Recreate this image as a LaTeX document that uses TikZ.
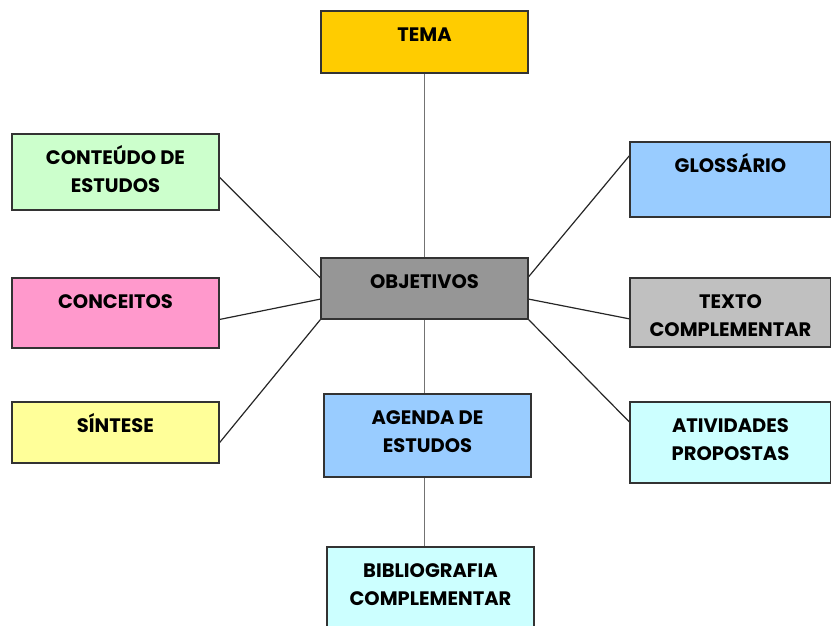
\documentclass[tikz,border=0pt]{standalone}
\usepackage{fontspec}
\setmainfont{Poppins}
\usetikzlibrary{calc,backgrounds}
\definecolor{cTema}{HTML}{FFCC00}
\definecolor{cGreen}{HTML}{CCFFCC}
\definecolor{cPink}{HTML}{FF99CC}
\definecolor{cYellow}{HTML}{FFFF99}
\definecolor{cObj}{HTML}{969696}
\definecolor{cBlue}{HTML}{99CCFF}
\definecolor{cSilver}{HTML}{C0C0C0}
\definecolor{cCyan}{HTML}{CCFFFF}
\definecolor{cBorder}{HTML}{333333}
\newcommand{\bt}[3]{\parbox[c][#2][t]{#1}{\centering\rule{0pt}{30pt}#3}}
\tikzset{
  box/.style={draw=cBorder, line width=1.4pt, inner sep=0pt,
    font=\bfseries\fontsize{19.5}{28.5}\selectfont},
  link/.style={draw=black!85, line width=1.2pt},
  vlink/.style={draw=black!55, line width=1.1pt}
}
\begin{document}
\begin{tikzpicture}[x=1pt,y=-1pt]
\useasboundingbox (0,0) rectangle (831,625);
\node[box, fill=cTema] (tema) at (424.5,42) {\bt{207pt}{62pt}{TEMA}};
\node[box, fill=cGreen] (conteudo) at (115.5,172) {\bt{207pt}{76pt}{CONTEÚDO DE\\ESTUDOS}};
\node[box, fill=cPink] (conceitos) at (115.5,313) {\bt{207pt}{70pt}{CONCEITOS}};
\node[box, fill=cYellow] (sintese) at (115.5,432.5) {\bt{207pt}{61pt}{SÍNTESE}};
\node[box, fill=cObj] (obj) at (424.5,288.5) {\bt{207pt}{61pt}{OBJETIVOS}};
\node[box, fill=cBlue] (glossario) at (730.5,179.5) {\bt{201pt}{75pt}{GLOSSÁRIO}};
\node[box, fill=cSilver] (texto) at (730.5,312.5) {\bt{201pt}{69pt}{TEXTO\\COMPLEMENTAR}};
\node[box, fill=cCyan] (atividades) at (730.5,442.5) {\bt{201pt}{81pt}{ATIVIDADES\\PROPOSTAS}};
\node[box, fill=cBlue] (agenda) at (427.5,435.5) {\bt{207pt}{83pt}{AGENDA DE\\ESTUDOS}};
\node[box, fill=cCyan] (biblio) at (430.5,592) {\bt{207pt}{90pt}{BIBLIOGRAFIA\\COMPLEMENTAR}};
\begin{scope}[on background layer]
\draw[vlink] (tema.south) -- (tema.south |- agenda.north);
\draw[vlink] (tema.south |- agenda.south) -- (tema.south |- biblio.north);
\draw[link] ($(conteudo.north east)!0.57!(conteudo.south east)$) -- ($(obj.north west)!0.33!(obj.south west)$);
\draw[link] ($(conceitos.north east)!0.59!(conceitos.south east)$) -- ($(obj.north west)!0.67!(obj.south west)$);
\draw[link] ($(sintese.north east)!0.66!(sintese.south east)$) -- (obj.south west);
\draw[link] ($(obj.north east)!0.31!(obj.south east)$) -- ($(glossario.north west)!0.19!(glossario.south west)$);
\draw[link] ($(obj.north east)!0.67!(obj.south east)$) -- ($(texto.north west)!0.59!(texto.south west)$);
\draw[link] (obj.south east) -- ($(atividades.north west)!0.25!(atividades.south west)$);
\end{scope}
\end{tikzpicture}
\end{document}
